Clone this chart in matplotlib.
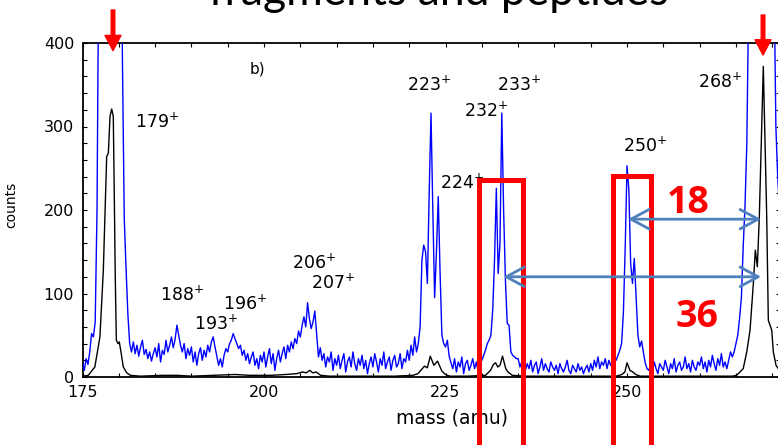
import numpy as np
import matplotlib
matplotlib.use("Agg")
import matplotlib.pyplot as plt
from matplotlib.patches import Rectangle

# blue trace: counts every 0.25 amu starting at 175.0
blue_start = 175.0
blue_step = 0.25
blue_counts = [
    18, 8, 22, 15, 30, 52, 48, 66, 200, 520, 900, 1300, 1700, 2000, 2200, 2300, 2300, 2100, 1800, 1400,   # 175
    1000, 650, 380, 190, 130, 75, 40, 30, 42, 28, 38, 25, 36, 44, 27, 33, 22, 30, 19, 28,                # 180
    35, 24, 40, 18, 32, 27, 44, 30, 38, 48, 35, 45, 62, 50, 38, 30, 40, 22, 34, 26,                      # 185
    36, 18, 30, 14, 28, 35, 20, 32, 24, 38, 30, 42, 48, 36, 25, 14, 22, 12, 26, 34,                      # 190
    30, 40, 44, 52, 46, 40, 34, 38, 26, 32, 20, 28, 16, 24, 30, 14, 22, 10, 26, 18,                      # 195
    30, 12, 24, 34, 16, 28, 8, 22, 32, 18, 28, 36, 22, 38, 30, 42, 34, 46, 40, 55,                       # 200
    48, 62, 72, 60, 89, 70, 58, 66, 79, 52, 24, 35, 20, 28, 12, 24, 18, 30, 8, 22,                       # 205
    14, 26, 10, 20, 28, 6, 18, 24, 12, 30, 16, 8, 22, 14, 26, 10, 20, 4, 16, 24,                         # 210
    12, 28, 18, 6, 22, 14, 30, 10, 18, 24, 8, 20, 26, 12, 16, 28, 10, 22, 18, 32,                        # 215
    20, 38, 26, 48, 30, 40, 60, 140, 158, 150, 112, 220, 316, 200, 95, 150, 216, 125, 50, 40,            # 220
    36, 44, 25, 17, 10, 22, 6, 18, 12, 24, 4, 16, 20, 8, 14, 22, 10, 18, 6, 14,                          # 225
    20, 26, 32, 40, 44, 50, 80, 140, 226, 124, 160, 316, 200, 116, 64, 62, 30, 26, 24, 22,               # 230
    22, 12, 18, 24, 8, 16, 10, 20, 6, 14, 18, 4, 12, 22, 8, 16, 10, 6, 18, 12,                           # 235
    8, 14, 4, 16, 10, 6, 12, 20, 8, 4, 14, 10, 6, 16, 8, 12, 4, 10, 14, 6,                               # 240
    16, 8, 20, 12, 24, 10, 18, 14, 22, 10, 20, 14, 18, 24, 20, 26, 32, 40, 77, 156,                      # 245
    253, 224, 136, 112, 142, 96, 50, 36, 43, 30, 17, 10, 8, 14, 6, 18, 10, 4, 16, 12,                    # 250
    8, 20, 12, 4, 16, 10, 22, 6, 14, 18, 8, 12, 24, 10, 16, 6, 20, 12, 8, 18,                            # 255
    14, 24, 10, 18, 6, 20, 12, 26, 16, 8, 22, 14, 28, 12, 18, 10, 20, 30, 24, 30,                        # 260
    40, 50, 70, 95, 156, 205, 280, 450, 1000, 1500, 1900, 2200, 2300, 2200, 1900, 1600, 1300, 1000, 800, 700,  # 265
    700, 480, 300, 240, 200,                                                                             # 270
]

# black trace
black_mass = [175.0, 175.8, 176.7, 177.4, 177.87, 178.33, 178.56, 178.79, 179.02, 179.24,
              179.38, 179.52, 179.66, 179.89, 180.07, 180.26, 180.62, 181.09, 181.6, 183.0,
              186.0, 188.0, 190.0, 193.0, 196.0, 198.0, 201.0, 203.0, 204.5, 205.3,
              205.8, 206.3, 206.7, 207.2, 207.8, 209.0, 212.0, 215.0, 218.0, 220.5,
              221.2, 221.6, 222.1, 222.5, 222.9, 223.4, 223.9, 224.5, 225.0, 225.6,
              228.0, 230.5, 231.2, 231.6, 231.9, 232.2, 232.5, 232.85, 233.3, 233.6,
              234.2, 236.0, 240.0, 245.0, 248.5, 249.3, 249.7, 250.0, 250.4, 250.8,
              251.2, 251.8, 256.0, 260.0, 264.5, 265.1, 266.0, 266.49, 266.94, 267.4,
              267.67, 267.95, 268.22, 268.77, 269.24, 269.46, 269.93, 270.15, 270.52, 271.0]
black_counts = [1, 2, 12, 48, 128, 264, 268, 312, 321, 312,
                216, 116, 44, 40, 42, 32, 12, 5, 2, 1,
                2, 2, 1, 2, 3, 2, 2, 3, 4, 6,
                5, 8, 5, 6, 2, 1, 1, 1, 1, 2,
                4, 8, 13, 11, 25, 14, 19, 7, 3, 1,
                1, 2, 8, 15, 17, 12, 14, 25, 10, 6,
                2, 1, 1, 1, 1, 3, 6, 17, 8, 6,
                3, 1, 1, 1, 1, 2, 10, 30, 56, 112,
                152, 132, 192, 372, 192, 68, 56, 30, 14, 8]

# peak labels: text, mass, counts (baseline)
peak_labels = ["179$^{+}$", "223$^{+}$", "233$^{+}$", "232$^{+}$", "268$^{+}$", "250$^{+}$",
               "224$^{+}$", "206$^{+}$", "207$^{+}$", "188$^{+}$", "196$^{+}$", "193$^{+}$"]
label_mass = [182.2, 219.65, 232.13, 227.55, 259.8, 249.4, 224.24, 203.8, 206.47, 185.67, 194.4, 190.36]
label_counts = [298, 343, 343, 312, 346, 270, 226, 130, 106, 91, 81, 57]

blue_mass = blue_start + blue_step * np.arange(len(blue_counts))

fig = plt.figure(figsize=(7.78, 4.45), dpi=100)
ax = fig.add_axes([82.5 / 778, 68 / 445, 697 / 778, 334 / 445])

ax.plot(blue_mass, blue_counts, color="#0000ff", lw=1.0, zorder=3)
ax.plot(black_mass, black_counts, color="black", lw=1.0, zorder=4)

ax.set_xlim(175, 271)
ax.set_ylim(0, 400)
ax.set_xticks([175, 200, 225, 250])
ax.set_xticks(np.arange(175, 271, 5), minor=True)
ax.set_yticks([0, 100, 200, 300, 400])
ax.set_yticks(np.arange(0, 401, 20), minor=True)
ax.tick_params(which="both", direction="in", top=True, right=True, length=3, width=0.8,
               labelsize=11.5, pad=6)
for s in ax.spines.values():
    s.set_linewidth(1.3)

ax.set_xlabel("mass (amu)", fontsize=13.5)
ax.xaxis.set_label_coords(0.53, -0.095)
fig.text(11 / 778, 1 - 205 / 445, "counts", fontsize=10, rotation=90,
         ha="center", va="center")

ax.text(198.07, 364, "b)", fontsize=11, va="baseline")
for t, m, c in zip(peak_labels, label_mass, label_counts):
    ax.text(m, c, t, fontsize=12.5, va="baseline", ha="left", zorder=5)

# red boxes
for x0, x1, top in [(229.55, 235.74, 236.5), (248.0, 253.37, 241.3)]:
    ax.add_patch(Rectangle((x0, -150), x1 - x0, top + 150, fill=False, ec="#ff0000",
                           lw=3.6, clip_on=False, zorder=10))

# red arrows at the top
for m, y0, y1 in [(179.2, 439.5, 390.8), (268.73, 433.5, 385.6)]:
    ax.annotate("", xy=(m, y1), xytext=(m, y0), annotation_clip=False,
                arrowprops=dict(width=2.6, headwidth=11.5, headlength=11,
                                color="#ff0000", shrink=0), zorder=10)

# blue double arrows
arrow_blue = "#4f81bd"
for x0, x1, y in [(250.14, 268.46, 189), (232.96, 268.46, 120)]:
    ax.annotate("", xy=(x1, y), xytext=(x0, y), annotation_clip=False,
                arrowprops=dict(arrowstyle="<->,head_length=0.65,head_width=0.35",
                                color=arrow_blue, lw=2.0, shrinkA=0, shrinkB=0,
                                mutation_scale=20), zorder=11)

ax.text(258.4, 196.4, "18", color="#ff0000", fontsize=27, fontweight="bold",
        family="Open Sans", ha="center", va="baseline", zorder=12)
ax.text(259.64, 59.9, "36", color="#ff0000", fontsize=27, fontweight="bold",
        family="Open Sans", ha="center", va="baseline", zorder=12)

fig.text(439 / 778, 1 - 5 / 445, "fragments and peptides", fontsize=32, family="Lato",
         ha="center", va="baseline")

fig.savefig("out.png", dpi=100)
